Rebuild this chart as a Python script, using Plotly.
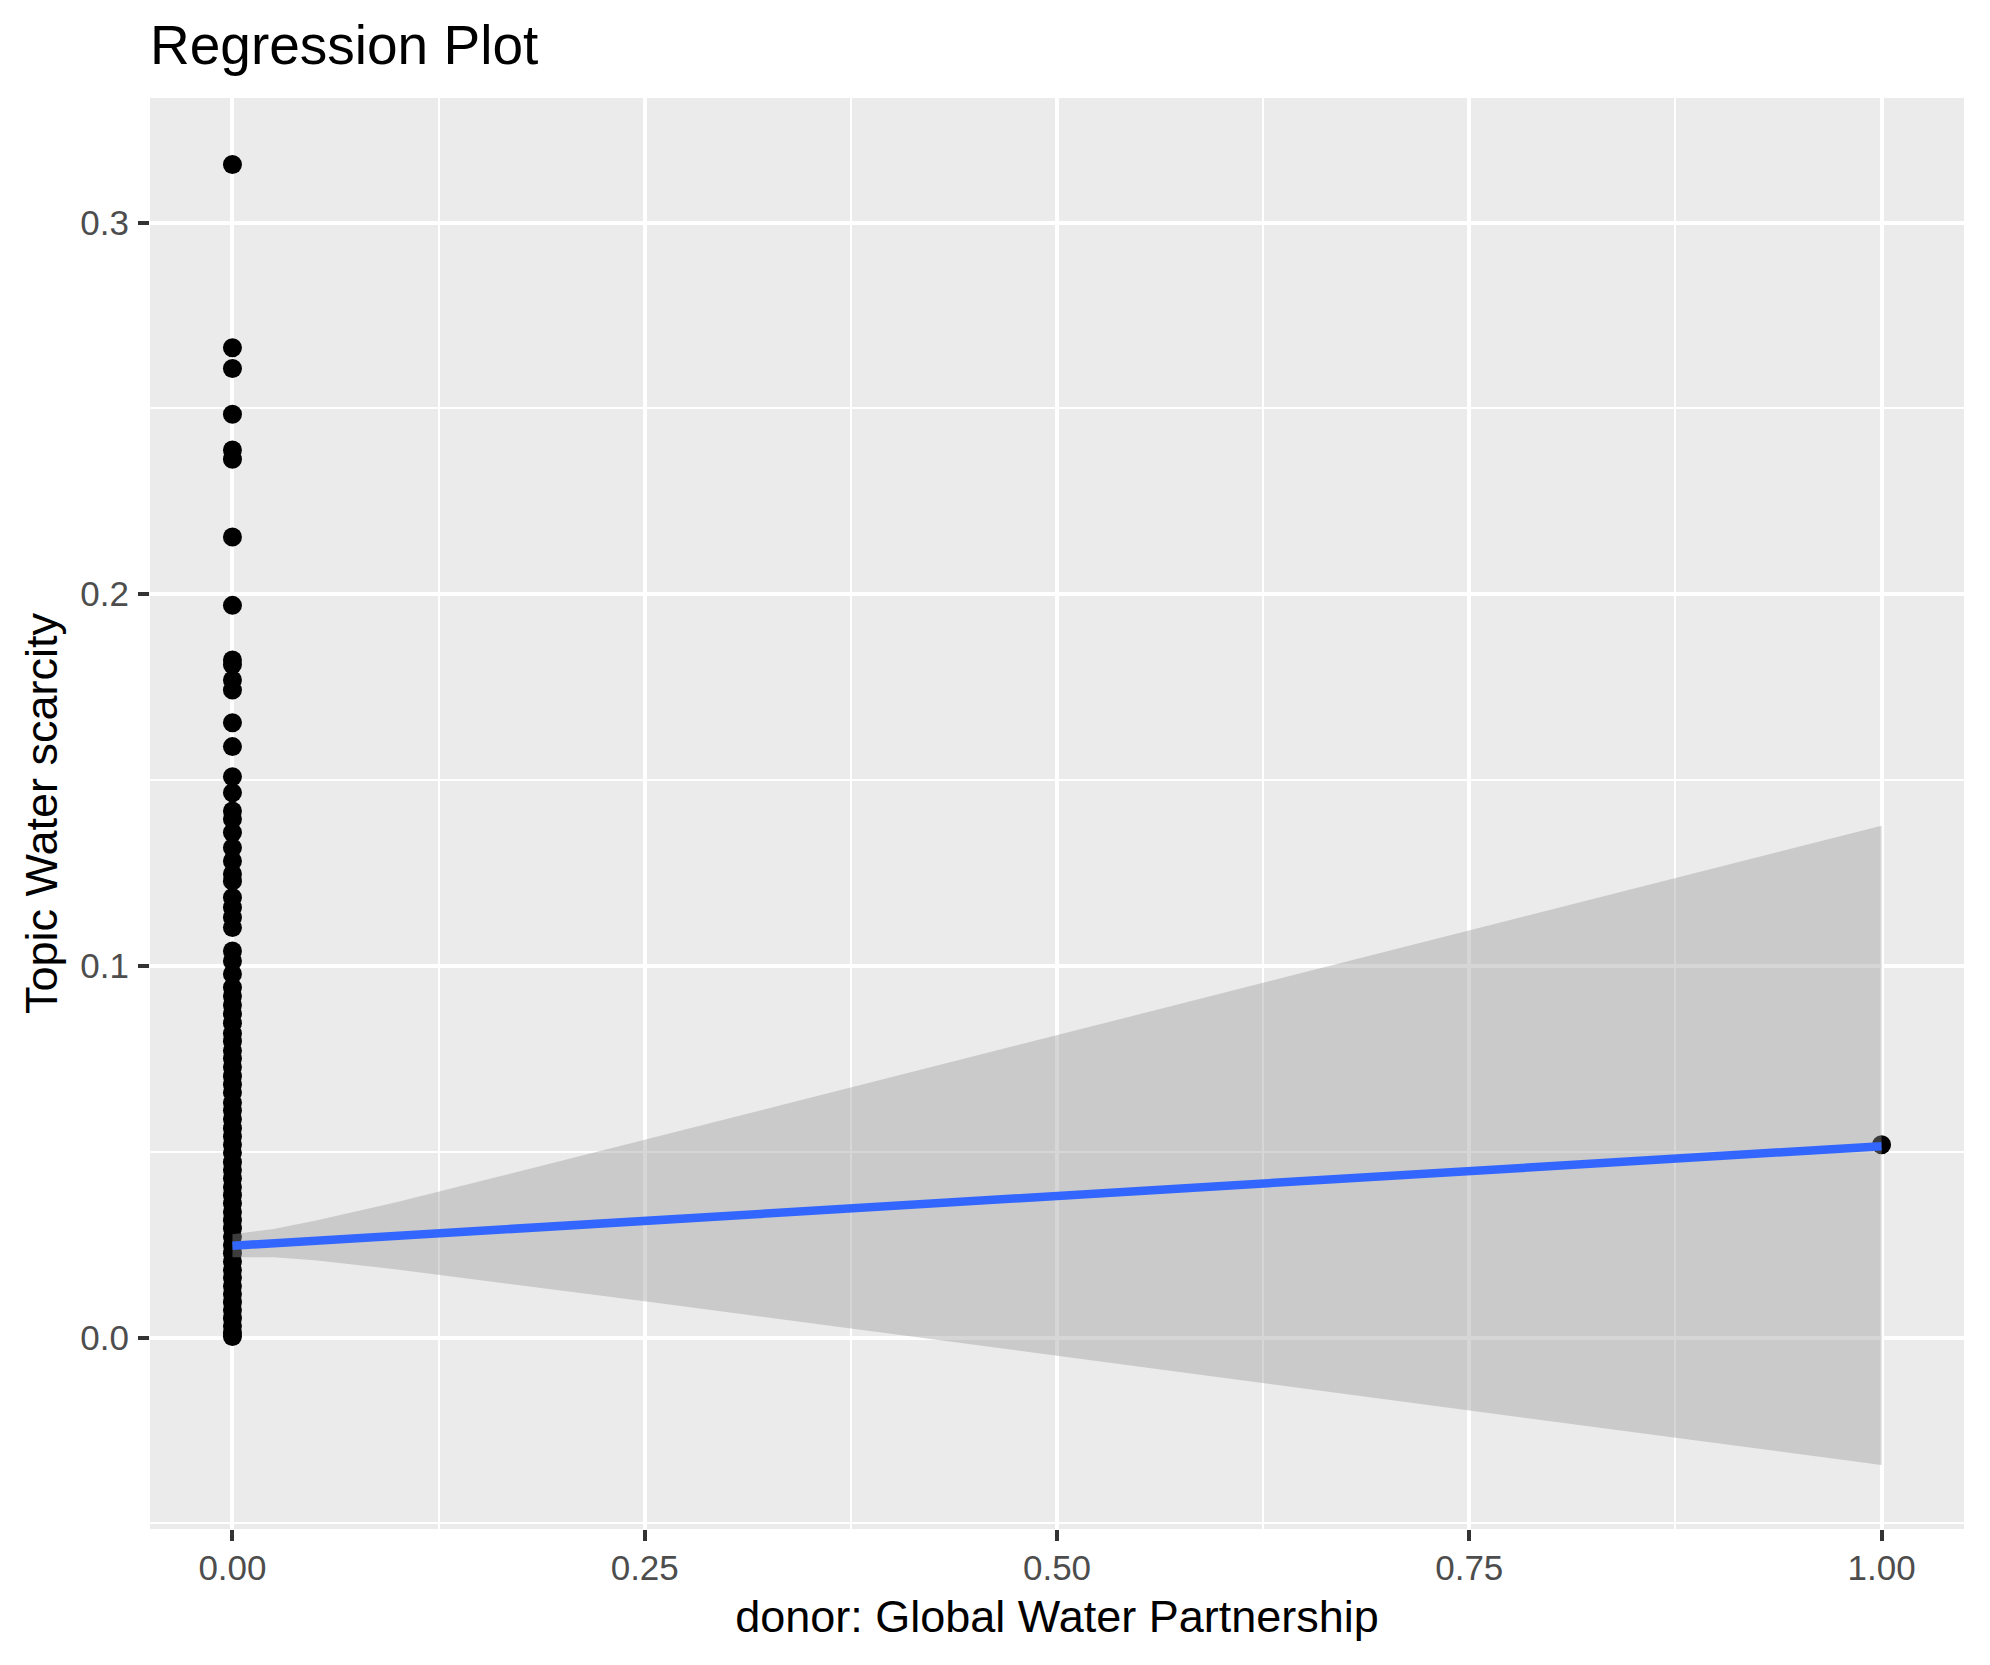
import plotly.graph_objects as go

# ---- data ----
# Observed topic share for documents where donor == 0
y_donor0 = [
    0.3156, 0.2663, 0.2607, 0.2484, 0.2388, 0.2363, 0.2154, 0.1970,
    0.1823, 0.1810, 0.1769, 0.1742, 0.1654, 0.1590, 0.1509, 0.1466,
    0.1417, 0.1395, 0.1359, 0.1318, 0.1282, 0.1247, 0.1228, 0.1184,
    0.1157, 0.1130, 0.1103, 0.1040, 0.1013, 0.0978, 0.0942, 0.0919,
    0.0895, 0.0871, 0.0846, 0.0818, 0.0797, 0.0772, 0.0751, 0.0728,
    0.0703, 0.0681, 0.0659, 0.0632, 0.0611, 0.0588, 0.0563, 0.0541,
    0.0519, 0.0497, 0.0472, 0.0451, 0.0428, 0.0405, 0.0383, 0.0361,
    0.0338, 0.0316, 0.0294, 0.0271, 0.0249, 0.0227, 0.0204, 0.0182,
    0.0161, 0.0139, 0.0117, 0.0095, 0.0074, 0.0052, 0.0031, 0.0012,
    0.0003,
]
# Observed topic share for documents where donor == 1
y_donor1 = [0.0519]

# Fitted regression line and confidence band
fit_x = [0.0, 1.0]
fit_y = [0.0247, 0.0515]
band_x = [0.0, 0.025, 0.05, 0.1, 0.25, 0.5, 0.75, 1.0]
band_lo = [0.0216, 0.0216, 0.0208, 0.0183, 0.0098, -0.0049, -0.0195, -0.0343]
band_hi = [0.0278, 0.0292, 0.0314, 0.0365, 0.0532, 0.0813, 0.1095, 0.1377]

x_ticks = [0.0, 0.25, 0.5, 0.75, 1.0]
x_labels = ["0.00", "0.25", "0.50", "0.75", "1.00"]
y_ticks = [0.0, 0.1, 0.2, 0.3]
y_labels = ["0.0", "0.1", "0.2", "0.3"]

title_text = "Regression Plot"
x_title = "donor: Global Water Partnership"
y_title = "Topic Water scarcity"

FONT = "Liberation Sans, Arial, Helvetica, sans-serif"

# the page body adds an 8px offset; size the figure to fit the window
W, H = 1982, 1657

fig = go.Figure()

# points
fig.add_trace(go.Scatter(
    x=[0.0] * len(y_donor0) + [1.0] * len(y_donor1),
    y=y_donor0 + y_donor1,
    mode="markers",
    marker=dict(size=19, color="black", line=dict(width=0)),
    showlegend=False, hoverinfo="skip",
))

# confidence ribbon
fig.add_trace(go.Scatter(
    x=band_x + band_x[::-1],
    y=band_hi + band_lo[::-1],
    mode="lines",
    fill="toself",
    fillcolor="rgba(153,153,153,0.4)",
    line=dict(width=0),
    showlegend=False, hoverinfo="skip",
))

# fitted line
fig.add_trace(go.Scatter(
    x=fit_x, y=fit_y, mode="lines",
    line=dict(color="#3366FF", width=8.5),
    showlegend=False, hoverinfo="skip",
))

axis_common = dict(
    showline=False, zeroline=False,
    gridcolor="white", gridwidth=4.4,
    ticks="outside", ticklen=11, tickwidth=4, tickcolor="#333333",
    tickfont=dict(family=FONT, size=35, color="#4D4D4D"),
    title_font=dict(family=FONT, size=45, color="black"),
)

fig.update_xaxes(
    range=[-0.05, 1.05],
    tickmode="array", tickvals=x_ticks, ticktext=x_labels,
    minor=dict(tickmode="array", tickvals=[0.125, 0.375, 0.625, 0.875],
               showgrid=True, gridcolor="white", gridwidth=2.2, ticks=""),
    title=dict(text=x_title, standoff=14),
    ticklabelstandoff=-3,
    **axis_common,
)
fig.update_yaxes(
    range=[-0.0515, 0.3335],
    tickmode="array", tickvals=y_ticks, ticktext=y_labels,
    minor=dict(tickmode="array", tickvals=[-0.05, 0.05, 0.15, 0.25],
               showgrid=True, gridcolor="white", gridwidth=2.2, ticks=""),
    title=dict(text=y_title, standoff=8),
    ticklabelstandoff=2,
    **axis_common,
)

fig.update_layout(
    width=W, height=H,
    margin=dict(l=142, r=26, t=90, b=136, autoexpand=False),
    paper_bgcolor="white", plot_bgcolor="#EBEBEB",
    font=dict(family=FONT),
    title=dict(text=title_text, x=142 / W, xanchor="left", xref="container",
               y=1 - 37 / H, yanchor="middle", yref="container",
               font=dict(family=FONT, size=55, color="black")),
)

fig.write_html("out.html")
